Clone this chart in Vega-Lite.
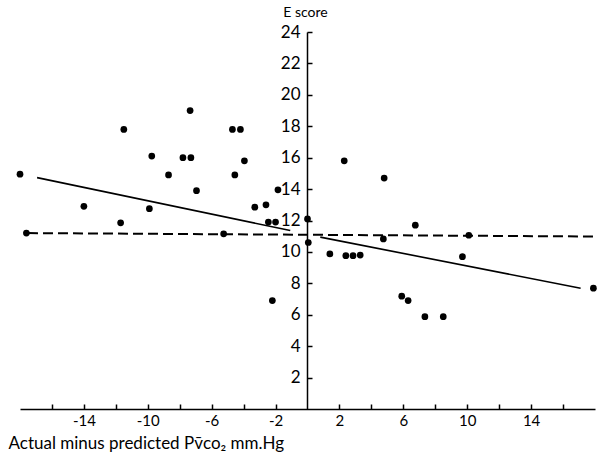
{
  "$schema": "https://vega.github.io/schema/vega-lite/v6.json",
  "width": 575,
  "height": 377,
  "autosize": {"type": "none"},
  "padding": {"left": 20, "top": 32, "right": 10, "bottom": 48},
  "background": "white",
  "config": {"view": {"stroke": null}, "font": "Lato"},
  "datasets": {
    "points": [
      {"x": -18.0, "y": 14.95}, {"x": -17.6, "y": 11.2}, {"x": -14.0, "y": 12.9},
      {"x": -11.7, "y": 11.85}, {"x": -11.5, "y": 17.8}, {"x": -9.9, "y": 12.75},
      {"x": -9.75, "y": 16.1}, {"x": -8.7, "y": 14.9}, {"x": -7.8, "y": 16.0},
      {"x": -7.3, "y": 16.0}, {"x": -7.35, "y": 19.0}, {"x": -6.95, "y": 13.9},
      {"x": -5.25, "y": 11.15}, {"x": -4.7, "y": 17.8}, {"x": -4.2, "y": 17.8},
      {"x": -4.55, "y": 14.9}, {"x": -3.95, "y": 15.8}, {"x": -3.3, "y": 12.85},
      {"x": -2.6, "y": 13.0}, {"x": -2.45, "y": 11.9}, {"x": -2.0, "y": 11.9},
      {"x": -1.85, "y": 13.95}, {"x": -2.2, "y": 6.9}, {"x": 0.0, "y": 12.1},
      {"x": 0.05, "y": 10.6}, {"x": 1.4, "y": 9.87}, {"x": 2.3, "y": 15.8},
      {"x": 2.4, "y": 9.76}, {"x": 2.85, "y": 9.76}, {"x": 3.3, "y": 9.8},
      {"x": 4.75, "y": 10.83}, {"x": 4.8, "y": 14.7}, {"x": 5.9, "y": 7.18},
      {"x": 6.3, "y": 6.9}, {"x": 6.75, "y": 11.7}, {"x": 7.35, "y": 5.88},
      {"x": 8.5, "y": 5.88}, {"x": 9.7, "y": 9.7}, {"x": 10.1, "y": 11.06},
      {"x": 17.9, "y": 7.69}
    ],
    "fit": [
      {"x": -16.93, "y": 14.73, "seg": "a"}, {"x": -1.08, "y": 11.36, "seg": "a"},
      {"x": 0.8, "y": 10.94, "seg": "b"}, {"x": 17.1, "y": 7.69, "seg": "b"}
    ],
    "dash": [
      {"x": -17.5, "y": 11.2}, {"x": 18.0, "y": 10.98}
    ]
  },
  "encoding": {
    "x": {
      "field": "x", "type": "quantitative",
      "scale": {"domain": [-18, 18], "nice": false, "zero": false},
      "axis": {
        "orient": "bottom",
        "values": [-16, -14, -12, -10, -8, -6, -4, -2, 2, 4, 6, 8, 10, 12, 14, 16],
        "labelExpr": "indexof([-14,-10,-6,-2,2,6,10,14], datum.value) >= 0 ? (datum.value < 0 ? '-' + abs(datum.value) : '' + datum.value) : ''",
        "grid": false,
        "tickSize": -5, "tickWidth": 1.5, "tickColor": "black",
        "domainColor": "black", "domainWidth": 1.5,
        "labelFontSize": 15, "labelColor": "black", "labelPadding": 9, "labelFlush": false,
        "title": "Actual minus predicted Pv\u0304co\u2082 mm.Hg",
        "titleFontSize": 17, "titleFontWeight": "normal", "titleColor": "black",
        "titleAnchor": "start", "titleAlign": "left", "titleX": -12, "titleY": 34,
        "titleBaseline": "middle"
      }
    },
    "y": {
      "field": "y", "type": "quantitative",
      "scale": {"domain": [0, 24], "nice": false},
      "axis": {
        "orient": "left", "offset": -287,
        "values": [2, 4, 6, 8, 10, 12, 14, 16, 18, 20, 22, 24],
        "grid": false,
        "tickSize": -5, "tickWidth": 1.5, "tickColor": "black",
        "domainColor": "black", "domainWidth": 1.5,
        "labelFontSize": 17, "labelColor": "black", "labelPadding": 12,
        "title": "E score", "titleAngle": 0, "titleX": -2, "titleY": -20,
        "titleAlign": "center", "titleBaseline": "middle",
        "titleFontSize": 14, "titleFontWeight": "normal", "titleColor": "black"
      }
    }
  },
  "layer": [
    {"data": {"name": "dash"}, "mark": {"type": "line", "color": "black", "strokeWidth": 2, "strokeDash": [10, 5]}},
    {"data": {"name": "fit"}, "mark": {"type": "line", "color": "black", "strokeWidth": 1.6}, "encoding": {"detail": {"field": "seg"}}},
    {"data": {"name": "points"}, "mark": {"type": "circle", "color": "black", "opacity": 1, "size": 45}}
  ]
}
